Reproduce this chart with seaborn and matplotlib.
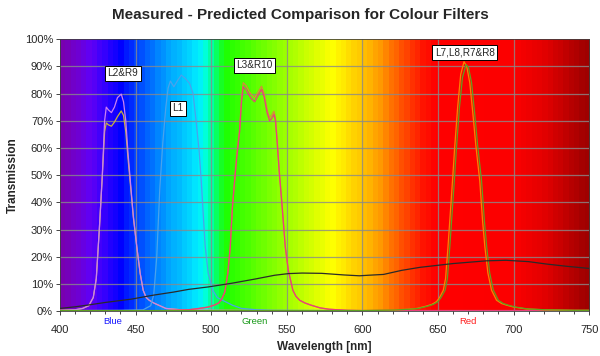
import numpy as np
import pandas as pd
import matplotlib
matplotlib.use("Agg")
import matplotlib.pyplot as plt
from matplotlib.colors import LinearSegmentedColormap
from matplotlib.ticker import MultipleLocator, PercentFormatter
import seaborn as sns

# ---- data (wavelength nm, transmission %) ----
blue_wl = [400, 410, 415, 419, 422, 424, 426, 428, 429.5, 430.6, 432, 434, 436, 438,
           440.5, 442, 443.5, 445, 446.5, 448.5, 450.8, 453, 455, 457, 459, 462, 466,
           470, 480, 500, 550, 600, 650, 700, 750]
blue_a = [0.3, 0.5, 1, 2, 5, 12, 30, 50, 70, 75, 74, 73, 75, 78.5,
          79.8, 77, 70, 58, 48, 35, 23.6, 14, 7.7, 5, 4, 3, 2,
          1, 0.5, 0.3, 0.2, 0.2, 0.2, 0.2, 0.2]
blue_b = [0.3, 0.5, 1, 2, 5, 12, 30, 50, 66, 69.2, 68.5, 68, 69.5, 71.5,
          73.6, 72, 66, 56, 47, 34.5, 23.6, 14, 7.7, 5, 4, 3, 2,
          1, 0.5, 0.3, 0.2, 0.2, 0.2, 0.2, 0.2]

l1_wl = [400, 440, 455, 460, 462, 464, 466, 468, 470, 471.5, 473, 475.3, 478, 480.2,
         483, 485.7, 488, 490, 492, 493.4, 496, 498, 501, 504, 507.5, 514, 520,
         530, 540, 600, 700, 750]
l1_t = [0.2, 0.3, 0.5, 2, 6, 20, 45, 62, 75, 82, 84.6, 82.5, 85, 86.8,
        85.5, 83.7, 80, 70, 59, 48, 24, 14, 7.7, 5, 4, 2.2, 1,
        0.5, 0.3, 0.2, 0.2, 0.2]

green_wl = [400, 470, 485, 492, 498, 502, 505, 507, 509, 511, 512.6, 514, 515.5, 517,
            518.8, 520, 521.2, 523, 526, 528.7, 531, 533.3, 535, 537, 538.6, 540,
            541.5, 542.5, 543.5, 545, 546.8, 549, 551, 554, 556, 558.5, 562, 566,
            572, 578, 590, 600, 700, 750]
green_a = [0.2, 0.2, 0.5, 1, 1.5, 2.2, 3, 4.5, 7, 14, 23.6, 38, 48, 58,
           67, 78, 84, 83, 80, 78.5, 80.5, 82.7, 80, 74, 71.2, 72,
           73.5, 71, 64, 52, 40, 23.6, 15, 7.7, 5.5, 4, 3, 2.2,
           1.2, 0.7, 0.3, 0.2, 0.2, 0.2]
green_b = [0.2, 0.2, 0.5, 1, 1.5, 2.2, 3, 4.5, 7, 14, 23.6, 38, 48, 57,
           66, 76.5, 82.5, 81.5, 78.5, 77, 79.3, 81.5, 78.8, 72.8, 70, 70.8,
           72.3, 70, 63, 51, 39, 23.6, 15, 7.7, 5.5, 4, 3, 2.2,
           1.2, 0.7, 0.3, 0.2, 0.2, 0.2]

red_wl = [400, 600, 620, 630, 636, 642, 646, 649, 651, 653.5, 655, 656.6, 658, 659.6,
          661, 663, 665, 667.2, 669, 671, 673, 675, 677.6, 679.5, 681, 683, 685.4,
          688.7, 692, 695.3, 700, 708.5, 720, 740, 750]
red_a = [0.2, 0.2, 0.4, 0.7, 1, 1.8, 2.5, 3.5, 5, 7.7, 12, 23.6, 35, 48,
         60, 75, 87, 91.7, 90, 84, 73, 61, 48, 33, 23.6, 14, 7.7,
         4, 2.8, 2.2, 1.5, 0.8, 0.5, 0.3, 0.3]
red_wl_b = [400, 600, 621, 631, 637, 643, 647, 650, 652, 654.7, 656.2, 657.8, 659.2, 660.8,
            662.2, 664.2, 666.2, 668.6, 670.2, 672.2, 674.2, 676.2, 678.8, 680.7, 682.2,
            684.2, 686.6, 689.9, 693.2, 696.5, 701.2, 709.7, 721, 740, 750]
red_b = [0.2, 0.2, 0.4, 0.7, 1, 1.8, 2.5, 3.5, 5, 7.7, 12, 23.6, 35, 48,
         60, 75, 86, 90.7, 89.5, 84, 73, 61, 48, 33, 23.6, 14, 7.7,
         4, 2.8, 2.2, 1.5, 0.8, 0.5, 0.3, 0.3]

base_wl = [400, 410, 418, 430, 447, 462, 475, 485, 498, 513, 529, 542, 551, 560, 573,
           588, 598, 604, 614, 626, 638, 660, 682, 695, 710, 722, 735, 750]
base_t = [1.0, 1.6, 2.2, 3.2, 4.4, 5.9, 7.0, 8.0, 8.9, 10.2, 11.8, 13.2, 13.8, 14.0, 13.9,
          13.3, 13.0, 13.2, 13.5, 15.0, 16.1, 17.5, 18.5, 18.7, 18.2, 17.3, 16.5, 15.7]

labels = ["L2&R9", "L1", "L3&R10", "L7,L8,R7&R8"]
label_wl = [441.5, 477.8, 528.8, 667.8]
label_t = [87.5, 74.6, 90.4, 95.2]

band_names = ["Blue", "Green", "Red"]
band_wl = [434.8, 528.7, 670]
band_colors = ["#1a1aff", "#1a9a1a", "#ff2020"]

# spectrum background anchors
spec_wl = [400, 410, 420, 430, 440, 450, 460, 470, 480, 490, 495, 500, 505, 510, 520,
           540, 560, 575, 580, 590, 600, 610, 620, 630, 640, 648, 700, 720, 750]
spec_col = ["#7a00ac", "#7000d0", "#6000f5", "#3000ff", "#0000ff", "#0040ff", "#0070ff",
            "#00a0ff", "#00c0ff", "#00e8ff", "#00ffee", "#00ff90", "#10ff40", "#20ff00",
            "#40ff00", "#80ff00", "#c0ff00", "#f0ff00", "#ffff00", "#ffe000", "#ffc400",
            "#ffa000", "#ff7000", "#ff4000", "#ff1400", "#ff0000", "#fc0000", "#e40000",
            "#9c0000"]

sns.set_style("white")
plt.rcParams["font.family"] = ["Liberation Sans", "DejaVu Sans"]

fig = plt.figure(figsize=(6, 3.56), dpi=100)
ax = fig.add_axes([0.1, 0.126, 0.882, 0.764])

# stepped spectrum background
pos = [(w - 400) / 350 for w in spec_wl]
cmap = LinearSegmentedColormap.from_list("spec", list(zip(pos, spec_col)))
edges = np.arange(400, 751, 3.5)
centers = (edges[:-1] + edges[1:]) / 2
ax.imshow(((centers - 400) / 350)[None, :], cmap=cmap, vmin=0, vmax=1, aspect="auto",
          extent=[400, 750, 0, 100], interpolation="nearest", zorder=0)

grid_kw = dict(color="#8a8a8a", lw=0.9, alpha=0.8, zorder=1)
for v in range(10, 100, 10):
    ax.axhline(v, **grid_kw)
for v in range(450, 750, 50):
    ax.axvline(v, **grid_kw)

series = [
    (blue_wl, blue_b, "#c8b040"),
    (blue_wl, blue_a, "#cc80f0"),
    (l1_wl, l1_t, "#4aa2ec"),
    (green_wl, green_a, "#d88a3a"),
    (green_wl, green_b, "#ea3f7c"),
    (red_wl, red_a, "#ff8000"),
    (red_wl_b, red_b, "#5fa020"),
    (base_wl, base_t, "#2a2a2a"),
]
for wl, t, c in series:
    sns.lineplot(x=wl, y=t, color=c, lw=0.9, ax=ax, zorder=3, sort=False)

for name, x, y in zip(labels, label_wl, label_t):
    ax.text(x, y, name, ha="center", va="center", fontsize=7.2, zorder=5,
            bbox=dict(boxstyle="square,pad=0.25", fc="white", ec="black", lw=0.7))

for name, x, c in zip(band_names, band_wl, band_colors):
    ax.text(x, -2.0, name, ha="center", va="top", fontsize=6.8, color=c,
            transform=ax.transData, clip_on=False)

ax.set_xlim(400, 750)
ax.set_ylim(0, 100)
ax.xaxis.set_major_locator(MultipleLocator(50))
ax.xaxis.set_minor_locator(MultipleLocator(10))
ax.yaxis.set_major_locator(MultipleLocator(10))
ax.yaxis.set_major_formatter(PercentFormatter(decimals=0))
ax.tick_params(axis="both", which="major", labelsize=8, length=3, width=0.6,
               direction="out", bottom=True, left=True, pad=7)
ax.tick_params(axis="y", pad=2)
ax.tick_params(axis="x", which="minor", length=2.5, width=0.6, bottom=True)
for s in ax.spines.values():
    s.set_color("#404040")
    s.set_linewidth(0.6)

ax.set_xlabel("Wavelength [nm]", fontsize=8.5, fontweight="bold", labelpad=4)
ax.set_ylabel("Transmission", fontsize=8.5, fontweight="bold", labelpad=4)
fig.suptitle("Measured - Predicted Comparison for Colour Filters", fontsize=11,
             fontweight="bold", y=0.978)

fig.savefig("out.png", dpi=100)
